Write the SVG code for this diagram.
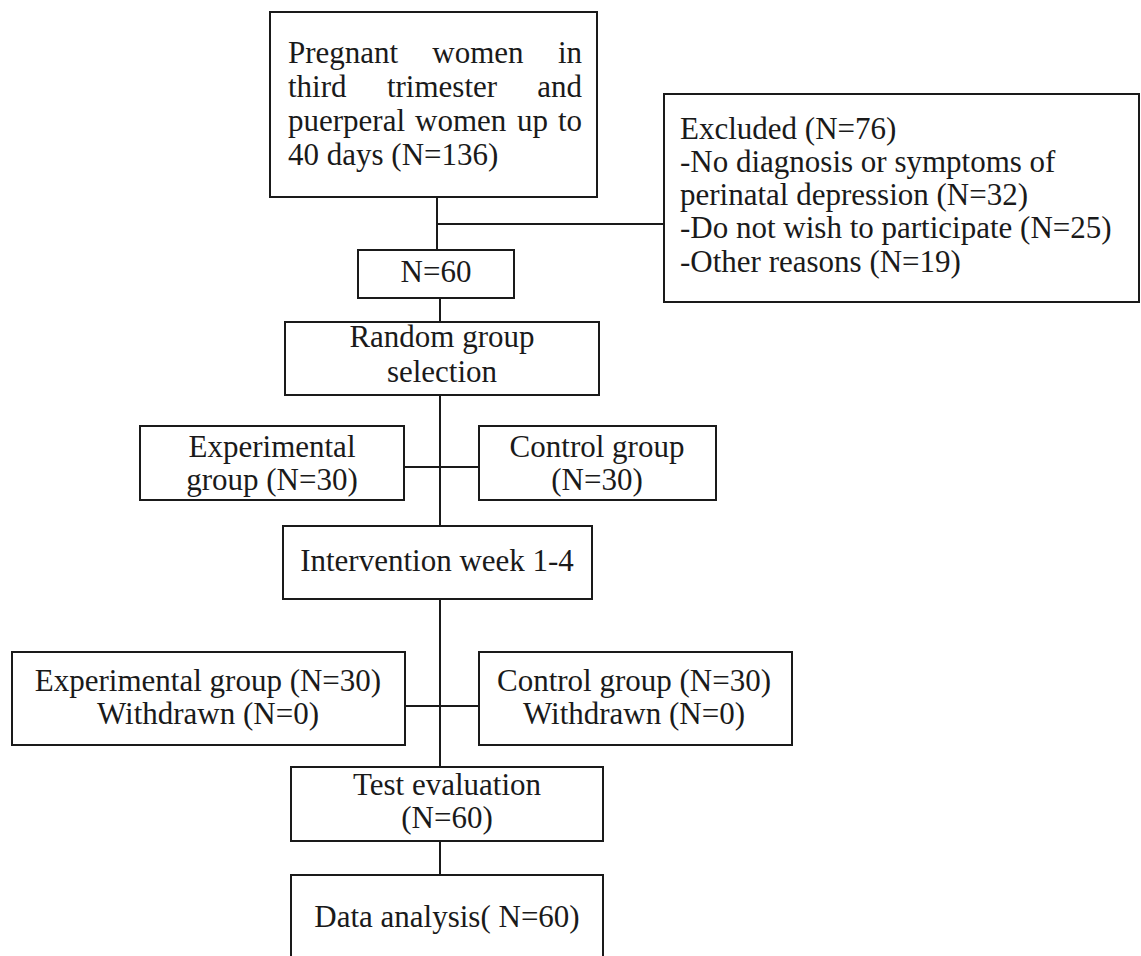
<svg xmlns="http://www.w3.org/2000/svg" width="1141" height="956" viewBox="0 0 1141 956">
<style>
.box{fill:#fff;stroke:#1a1a1a;stroke-width:2}
.t{font-family:"Liberation Serif","Times New Roman",serif;font-size:31px;fill:#1a1a1a}
.m{text-anchor:middle}
.c{stroke:#1a1a1a;stroke-width:2;fill:none}
</style>
<rect width="1141" height="956" fill="#fff"/>
<g id="connectors">
<line class="c" x1="437" y1="197" x2="437" y2="250" stroke="#777"/>
<line class="c" x1="437" y1="224" x2="664" y2="224"/>
<line class="c" x1="440" y1="298" x2="440" y2="322"/>
<line class="c" x1="440" y1="395" x2="440" y2="526"/>
<line class="c" x1="404" y1="467" x2="479" y2="467"/>
<line class="c" x1="440" y1="599" x2="440" y2="767"/>
<line class="c" x1="405" y1="706" x2="479" y2="706"/>
<line class="c" x1="440" y1="841" x2="440" y2="875"/>
</g>
<g id="n_start">
<rect class="box" x="270" y="12" width="327" height="185"/>
<text class="t" y="63"><tspan x="288">Pregnant</tspan><tspan x="478" class="m" text-anchor="middle">women</tspan><tspan x="582" text-anchor="end">in</tspan></text>
<text class="t" y="97"><tspan x="288">third</tspan><tspan x="442" text-anchor="middle">trimester</tspan><tspan x="582" text-anchor="end">and</tspan></text>
<text class="t" y="131"><tspan x="288">puerperal</tspan><tspan x="415">women</tspan><tspan x="517">up</tspan><tspan x="582" text-anchor="end">to</tspan></text>
<text class="t" x="288" y="165">40 days (N=136)</text>
</g>
<g id="n_excluded">
<rect class="box" x="664" y="94" width="475" height="208"/>
<text class="t" x="680" y="139">Excluded (N=76)</text>
<text class="t" x="680" y="172">-No diagnosis or symptoms of</text>
<text class="t" x="680" y="205">perinatal depression (N=32)</text>
<text class="t" x="680" y="238">-Do not wish to participate (N=25)</text>
<text class="t" x="680" y="272">-Other reasons (N=19)</text>
</g>
<g id="n_n60">
<rect class="box" x="358" y="250" width="156" height="48"/>
<text class="t m" x="436" y="282">N=60</text>
</g>
<g id="n_random">
<rect class="box" x="285" y="322" width="314" height="73"/>
<text class="t m" x="442" y="347">Random group</text>
<text class="t m" x="442" y="382">selection</text>
</g>
<g id="n_exp1">
<rect class="box" x="140" y="426" width="264" height="74"/>
<text class="t m" x="272" y="457">Experimental</text>
<text class="t m" x="272" y="490">group (N=30)</text>
</g>
<g id="n_ctrl1">
<rect class="box" x="479" y="426" width="237" height="74"/>
<text class="t m" x="597" y="457">Control group</text>
<text class="t m" x="597" y="490">(N=30)</text>
</g>
<g id="n_intervention">
<rect class="box" x="283" y="526" width="309" height="73"/>
<text class="t m" x="437" y="571">Intervention week 1-4</text>
</g>
<g id="n_exp2">
<rect class="box" x="12" y="652" width="393" height="93"/>
<text class="t m" x="208" y="691">Experimental group (N=30)</text>
<text class="t m" x="208" y="724">Withdrawn (N=0)</text>
</g>
<g id="n_ctrl2">
<rect class="box" x="479" y="652" width="313" height="93"/>
<text class="t m" x="634" y="691">Control group (N=30)</text>
<text class="t m" x="634" y="724">Withdrawn (N=0)</text>
</g>
<g id="n_test">
<rect class="box" x="291" y="767" width="312" height="74"/>
<text class="t m" x="447" y="795">Test evaluation</text>
<text class="t m" x="447" y="828">(N=60)</text>
</g>
<g id="n_data">
<rect class="box" x="291" y="875" width="312" height="90"/>
<text class="t m" x="447" y="927">Data analysis( N=60)</text>
</g>
</svg>
